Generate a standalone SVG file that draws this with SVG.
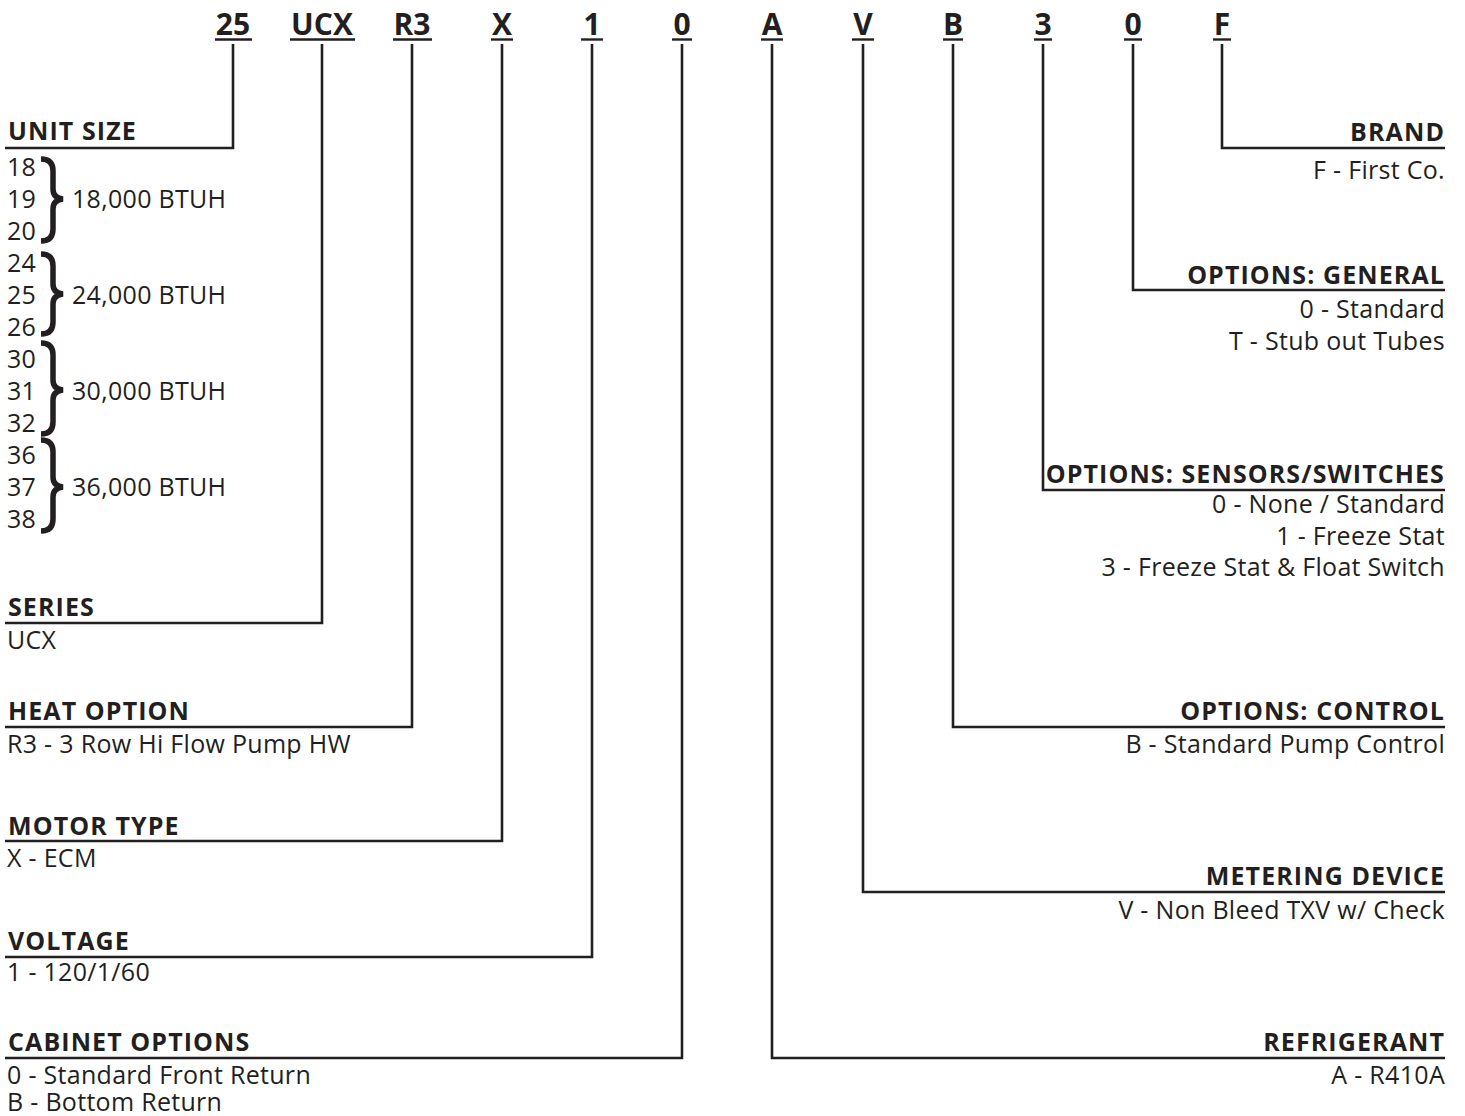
<svg xmlns="http://www.w3.org/2000/svg" width="1465" height="1116" viewBox="0 0 1465 1116">
<style>
.code{font-family:"Open Sans","Liberation Sans",sans-serif;font-weight:700;font-size:30px;fill:#231f20;text-anchor:middle}
.h{font-family:"Open Sans","Liberation Sans",sans-serif;font-weight:700;font-size:25px;letter-spacing:1.1px;fill:#231f20}
.t{font-family:"Open Sans","Liberation Sans",sans-serif;font-size:25px;letter-spacing:0.3px;fill:#231f20}
.r{text-anchor:end}
.ln{fill:none;stroke:#231f20;stroke-width:2.6}
.ul{fill:none;stroke:#231f20;stroke-width:2.4}
.br{fill:none;stroke:#231f20;stroke-width:5.5}
</style>
<rect width="1465" height="1116" fill="#ffffff"/>
<g id="codes">
<text class="code" x="233" y="35">25</text><line class="ul" x1="215" y1="39.5" x2="252" y2="39.5"/>
<text class="code" x="322" y="35">UCX</text><line class="ul" x1="290" y1="39.5" x2="355" y2="39.5"/>
<text class="code" x="412" y="35">R3</text><line class="ul" x1="393" y1="39.5" x2="432" y2="39.5"/>
<text class="code" x="502" y="35">X</text><line class="ul" x1="491" y1="39.5" x2="513" y2="39.5"/>
<text class="code" x="592" y="35">1</text><line class="ul" x1="581" y1="39.5" x2="603" y2="39.5"/>
<text class="code" x="682" y="35">0</text><line class="ul" x1="672" y1="39.5" x2="692" y2="39.5"/>
<text class="code" x="772" y="35">A</text><line class="ul" x1="761" y1="39.5" x2="783" y2="39.5"/>
<text class="code" x="863" y="35">V</text><line class="ul" x1="852" y1="39.5" x2="874" y2="39.5"/>
<text class="code" x="953" y="35">B</text><line class="ul" x1="943" y1="39.5" x2="963" y2="39.5"/>
<text class="code" x="1043" y="35">3</text><line class="ul" x1="1034" y1="39.5" x2="1052" y2="39.5"/>
<text class="code" x="1133" y="35">0</text><line class="ul" x1="1124" y1="39.5" x2="1142" y2="39.5"/>
<text class="code" x="1222" y="35">F</text><line class="ul" x1="1213" y1="39.5" x2="1231" y2="39.5"/>
</g>
<g id="connectors">
<polyline class="ln" points="233,44 233,148 5,148"/>
<polyline class="ln" points="322,44 322,623 5,623"/>
<polyline class="ln" points="412,44 412,727 5,727"/>
<polyline class="ln" points="502,44 502,841 5,841"/>
<polyline class="ln" points="592,44 592,957 5,957"/>
<polyline class="ln" points="682,44 682,1058 5,1058"/>
<polyline class="ln" points="772,44 772,1058 1445,1058"/>
<polyline class="ln" points="863,44 863,892 1445,892"/>
<polyline class="ln" points="953,44 953,727 1445,727"/>
<polyline class="ln" points="1043,44 1043,490 1445,490"/>
<polyline class="ln" points="1133,44 1133,290 1445,290"/>
<polyline class="ln" points="1222,44 1222,148 1445,148"/>
</g>
<g id="unit-size">
<text class="h" x="8" y="140">UNIT SIZE</text>
<text class="t" x="7" y="176">18</text>
<text class="t" x="7" y="208">19</text>
<text class="t" x="7" y="240">20</text>
<text class="t" x="7" y="272">24</text>
<text class="t" x="7" y="304">25</text>
<text class="t" x="7" y="336">26</text>
<text class="t" x="7" y="368">30</text>
<text class="t" x="7" y="400">31</text>
<text class="t" x="7" y="432">32</text>
<text class="t" x="7" y="464">36</text>
<text class="t" x="7" y="496">37</text>
<text class="t" x="7" y="528">38</text>
<path class="br" d="M41,159 Q53,159 53,171 L53,189 Q53,198 63,199 Q53,200 53,209 L53,229 Q53,241 41,241"/>
<path class="br" d="M41,254 Q53,254 53,266 L53,284 Q53,293 63,294 Q53,295 53,304 L53,322 Q53,334 41,334"/>
<path class="br" d="M41,343 Q53,343 53,355 L53,380 Q53,389 63,390 Q53,391 53,400 L53,422 Q53,434 41,434"/>
<path class="br" d="M41,440 Q53,440 53,452 L53,477 Q53,486 63,487 Q53,488 53,497 L53,519 Q53,531 41,531"/>
<text class="t" x="72" y="208">18,000 BTUH</text>
<text class="t" x="72" y="304">24,000 BTUH</text>
<text class="t" x="72" y="400">30,000 BTUH</text>
<text class="t" x="72" y="496">36,000 BTUH</text>
</g>
<g id="series">
<text class="h" x="8" y="616">SERIES</text>
<text class="t" x="7" y="649">UCX</text>
</g>
<g id="heat-option">
<text class="h" x="8" y="720">HEAT OPTION</text>
<text class="t" x="7" y="753">R3 - 3 Row Hi Flow Pump HW</text>
</g>
<g id="motor-type">
<text class="h" x="8" y="835">MOTOR TYPE</text>
<text class="t" x="7" y="867">X - ECM</text>
</g>
<g id="voltage">
<text class="h" x="8" y="950">VOLTAGE</text>
<text class="t" x="7" y="981">1 - 120/1/60</text>
</g>
<g id="cabinet-options">
<text class="h" x="8" y="1051">CABINET OPTIONS</text>
<text class="t" x="7" y="1084">0 - Standard Front Return</text>
<text class="t" x="7" y="1111">B - Bottom Return</text>
</g>
<g id="brand">
<text class="h r" x="1445" y="141">BRAND</text>
<text class="t r" x="1445" y="179">F - First Co.</text>
</g>
<g id="options-general">
<text class="h r" x="1445" y="284">OPTIONS: GENERAL</text>
<text class="t r" x="1445" y="318">0 - Standard</text>
<text class="t r" x="1445" y="350">T - Stub out Tubes</text>
</g>
<g id="options-sensors">
<text class="h r" x="1445" y="483">OPTIONS: SENSORS/SWITCHES</text>
<text class="t r" x="1445" y="513">0 - None / Standard</text>
<text class="t r" x="1445" y="545">1 - Freeze Stat</text>
<text class="t r" x="1445" y="576">3 - Freeze Stat &amp; Float Switch</text>
</g>
<g id="options-control">
<text class="h r" x="1445" y="720">OPTIONS: CONTROL</text>
<text class="t r" x="1445" y="753">B - Standard Pump Control</text>
</g>
<g id="metering-device">
<text class="h r" x="1445" y="885">METERING DEVICE</text>
<text class="t r" x="1445" y="919">V - Non Bleed TXV w/ Check</text>
</g>
<g id="refrigerant">
<text class="h r" x="1445" y="1051">REFRIGERANT</text>
<text class="t r" x="1445" y="1084">A - R410A</text>
</g>
</svg>
